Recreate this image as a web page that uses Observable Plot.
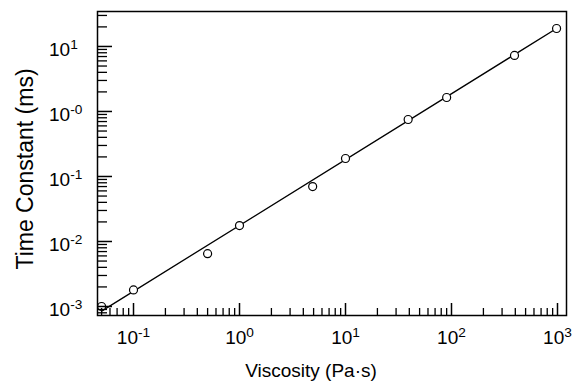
<!DOCTYPE html>
<html>
<head>
<meta charset="utf-8">
<script src="https://cdn.jsdelivr.net/npm/d3@7"></script>
<script src="https://cdn.jsdelivr.net/npm/@observablehq/plot@0.6"></script>
<style>
  html, body { margin: 0; padding: 0; background: #fff; }
  #chart { width: 576px; height: 383px; }
</style>
</head>
<body>
<div id="chart"></div>
<script>
// ---- data ----
const viscosity    = [0.05, 0.1, 0.5, 1, 4.9, 10, 39, 90, 393, 980];      // Pa·s
const timeConstant = [0.001, 0.0018, 0.0065, 0.0176, 0.070, 0.189, 0.753, 1.64, 7.27, 18.9]; // ms
const fitX = [0.05, 1050];
const fitY = [0.00085, 20.3];

const xMajor = [0.1, 1, 10, 100, 1000];
const xTickLabels = ["10^-1", "10^0", "10^1", "10^2", "10^3"];
const yMajor = [0.001, 0.01, 0.1, 1, 10];
const yTickLabels = ["10^-3", "10^-2", "10^-1", "10^-0", "10^1"];
const xMinor = [0.05,0.06,0.07,0.08,0.09, 0.2,0.3,0.4,0.5,0.6,0.7,0.8,0.9, 2,3,4,5,6,7,8,9, 20,30,40,50,60,70,80,90, 200,300,400,500,600,700,800,900];
const yMinor = [0.0008,0.0009, 0.002,0.003,0.004,0.005,0.006,0.007,0.008,0.009, 0.02,0.03,0.04,0.05,0.06,0.07,0.08,0.09, 0.2,0.3,0.4,0.5,0.6,0.7,0.8,0.9, 2,3,4,5,6,7,8,9, 20,30];
const xTitle = "Viscosity (Pa·s)";
const yTitle = "Time Constant (ms)";

const points = viscosity.map((v, i) => ({x: v, y: timeConstant[i]}));
const fit = fitX.map((v, i) => ({x: v, y: fitY[i]}));

const W = 576, H = 383, mL = 97, mR = 10, mT = 11, mB = 68;
const fw = W - mL - mR, fh = H - mT - mB;

const plot = Plot.plot({
  width: W, height: H,
  marginLeft: mL, marginRight: mR, marginTop: mT, marginBottom: mB,
  style: {fontFamily: "'Liberation Sans', Arial, Helvetica, sans-serif", background: "white", color: "black"},
  x: {type: "log", domain: [0.04574, 1216]},
  y: {type: "log", domain: [0.000727, 34.5]},
  marks: [
    Plot.axisY(yMajor, {tickSize: 0, tickPadding: 48.5, textAnchor: "start", dy: 3, fontSize: 19,
      tickFormat: d => yTickLabels[yMajor.indexOf(d)], label: null}),
    Plot.axisX(xMajor, {tickSize: 0, tickPadding: 15, fontSize: 19,
      tickFormat: d => xTickLabels[xMajor.indexOf(d)], label: null}),
    Plot.line(fit, {x: "x", y: "y", stroke: "black", strokeWidth: 1.3}),
    Plot.dot(points, {x: "x", y: "y", r: 4, stroke: "black", fill: "white", strokeWidth: 1.2}),
    Plot.tickY(yMajor, {y: d => d, insetRight: fw - 15, stroke: "black", strokeWidth: 1.5}),
    Plot.tickY(yMinor, {y: d => d, insetRight: fw - 10, stroke: "black", strokeWidth: 1.3}),
    Plot.tickX(xMajor, {x: d => d, insetTop: fh - 12, stroke: "black", strokeWidth: 1.5}),
    Plot.tickX(xMinor, {x: d => d, insetTop: fh - 7, stroke: "black", strokeWidth: 1.3}),
    Plot.frame({stroke: "black", strokeWidth: 1.5})
  ]
});

document.getElementById("chart").appendChild(plot);

// turn "10^e" labels into superscripts
d3.select(plot).selectAll("text").each(function() {
  const t = this.textContent;
  if (!t.includes("^")) return;
  const [base, exp] = t.split("^");
  const sel = d3.select(this);
  sel.text("");
  sel.append("tspan").text(base);
  sel.append("tspan").attr("font-size", "0.72em").attr("dy", "-0.5em").text(exp);
});

// axis titles
const svg = d3.select(plot);
svg.append("text")
  .attr("x", 311).attr("y", 377)
  .attr("text-anchor", "middle")
  .attr("font-size", 19)
  .attr("fill", "black")
  .text(xTitle);
svg.append("text")
  .attr("transform", "translate(33,169) rotate(-90)")
  .attr("text-anchor", "middle")
  .attr("font-size", 23)
  .attr("fill", "black")
  .text(yTitle);
</script>
</body>
</html>
